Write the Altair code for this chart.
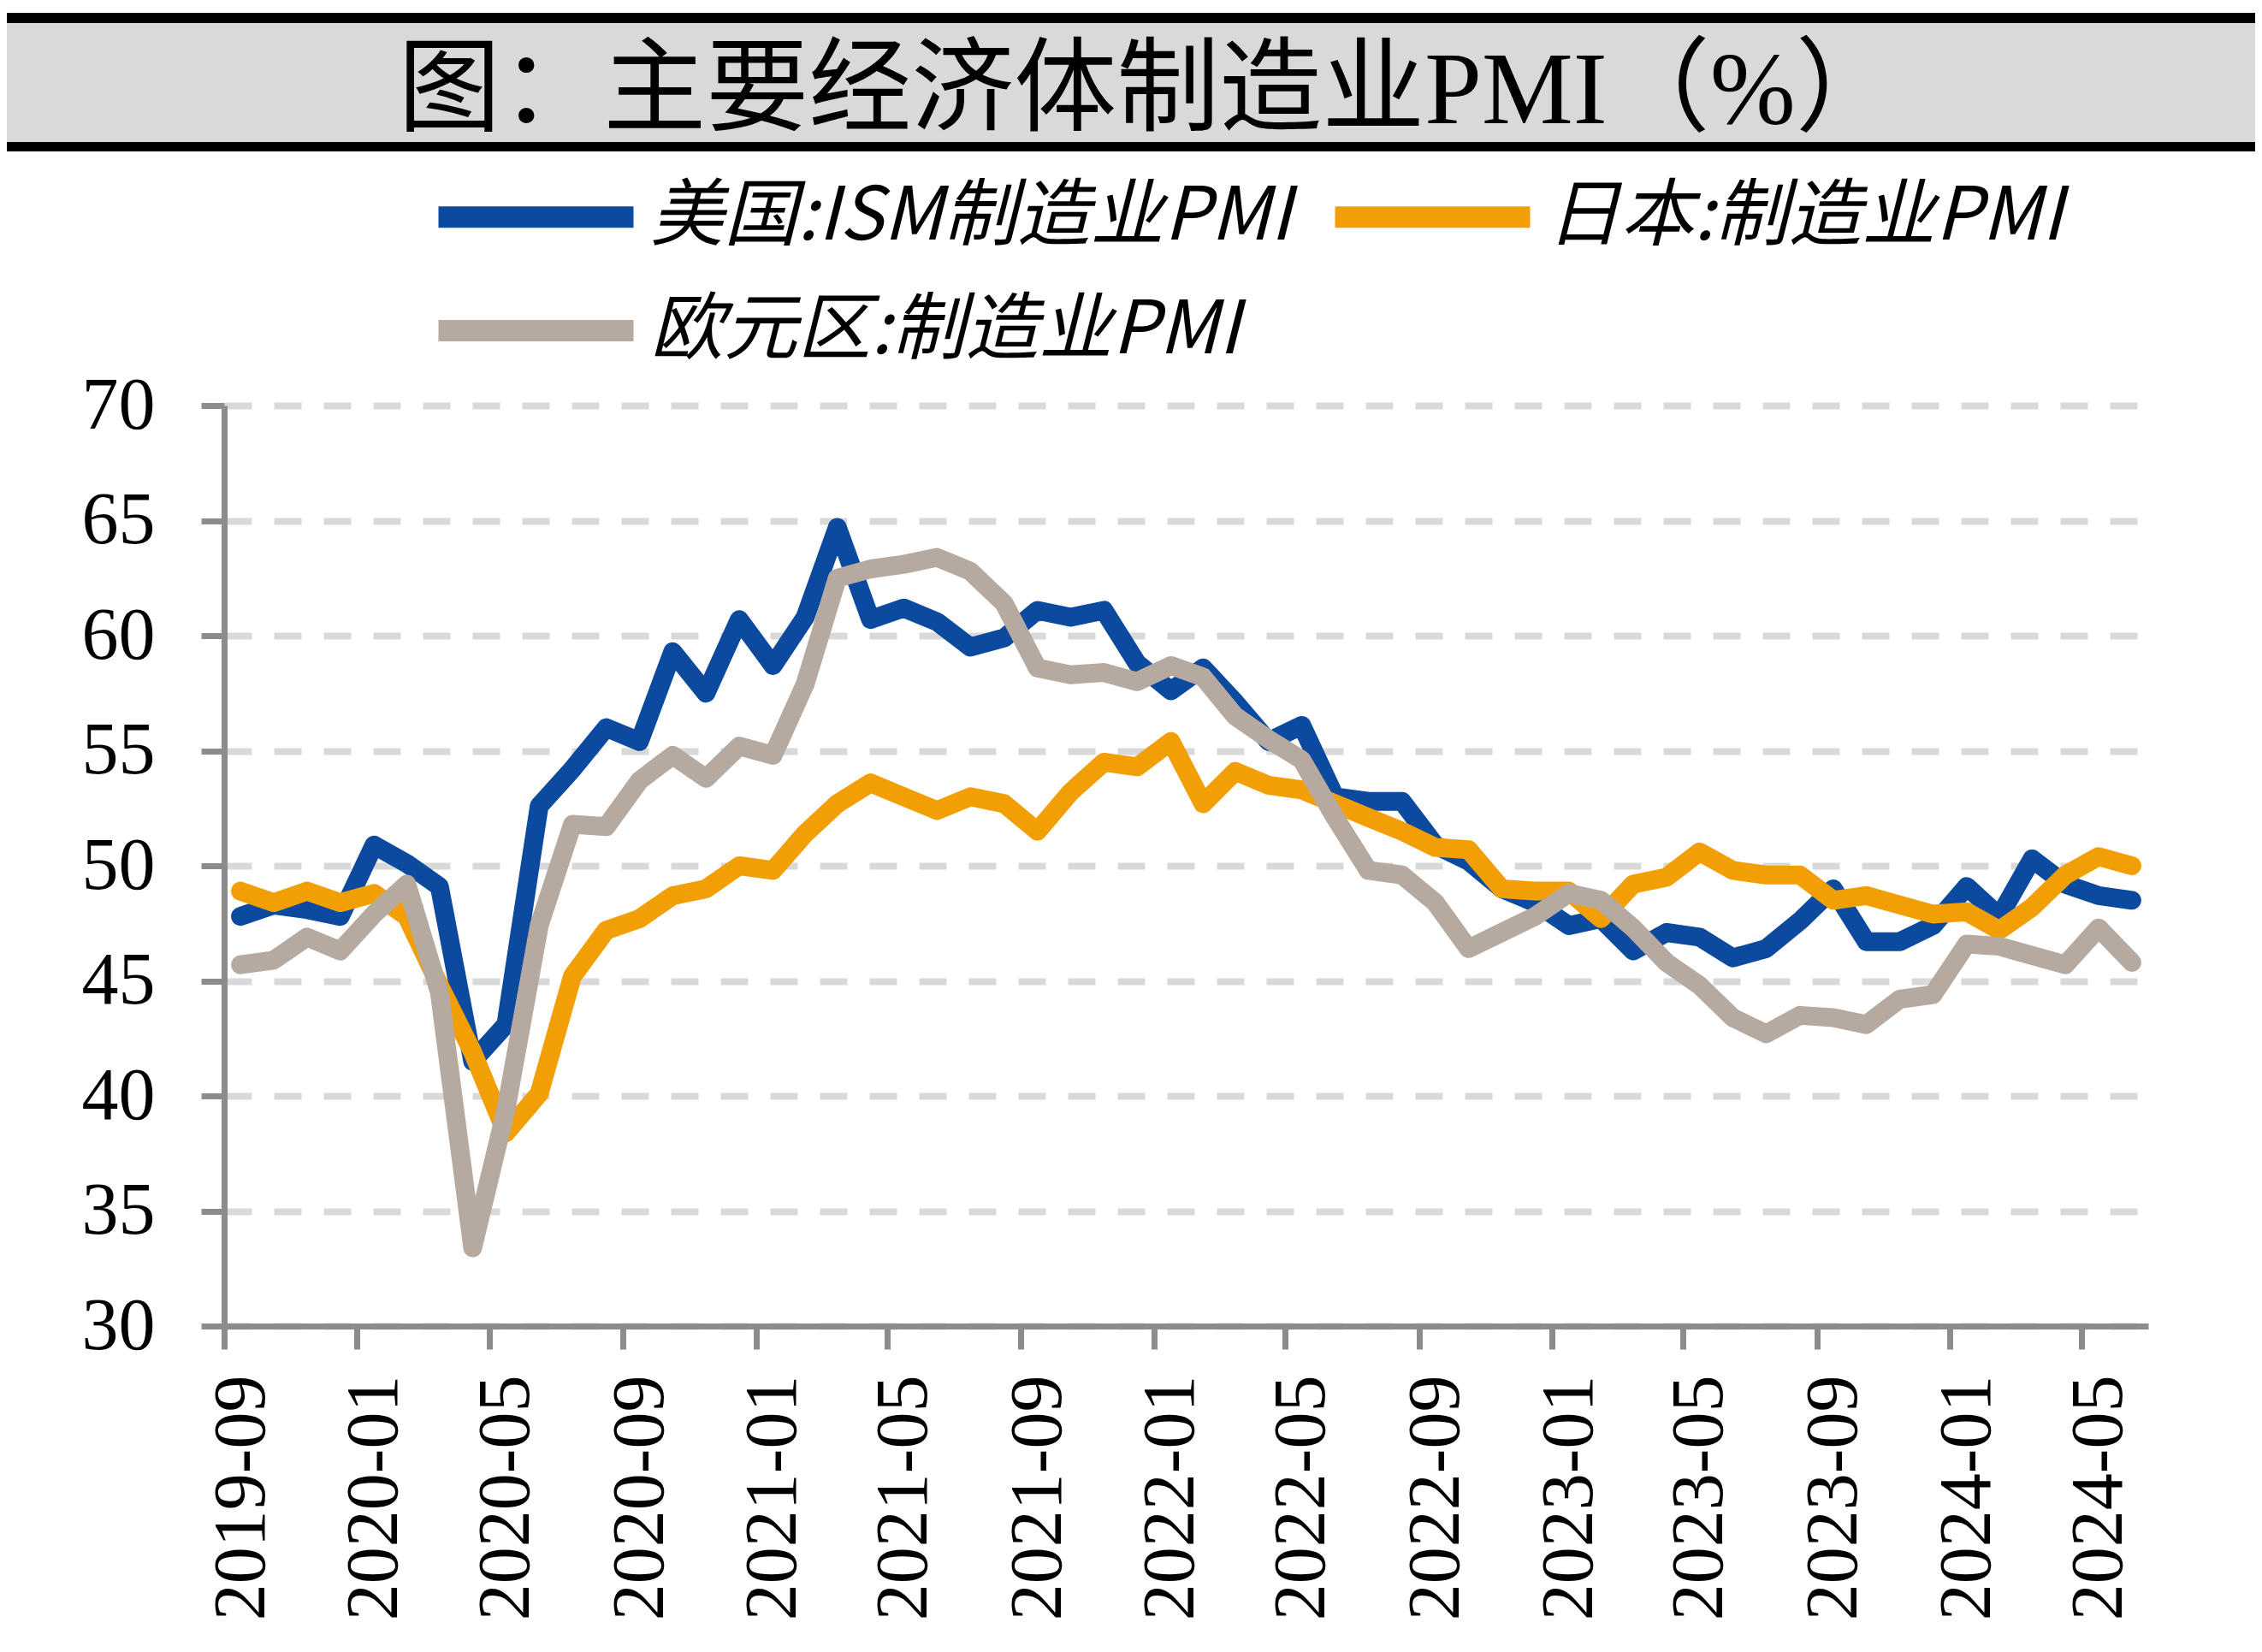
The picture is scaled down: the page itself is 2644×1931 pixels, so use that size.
import altair as alt
import pandas as pd

# ---------------- data ----------------
months = [
    "2019-09", "2019-10", "2019-11", "2019-12",
    "2020-01", "2020-02", "2020-03", "2020-04", "2020-05", "2020-06",
    "2020-07", "2020-08", "2020-09", "2020-10", "2020-11", "2020-12",
    "2021-01", "2021-02", "2021-03", "2021-04", "2021-05", "2021-06",
    "2021-07", "2021-08", "2021-09", "2021-10", "2021-11", "2021-12",
    "2022-01", "2022-02", "2022-03", "2022-04", "2022-05", "2022-06",
    "2022-07", "2022-08", "2022-09", "2022-10", "2022-11", "2022-12",
    "2023-01", "2023-02", "2023-03", "2023-04", "2023-05", "2023-06",
    "2023-07", "2023-08", "2023-09", "2023-10", "2023-11", "2023-12",
    "2024-01", "2024-02", "2024-03", "2024-04", "2024-05", "2024-06",
]

us_ism = [
    47.8, 48.3, 48.1, 47.8,
    50.9, 50.1, 49.1, 41.5, 43.1, 52.6, 54.2, 56.0, 55.4, 59.3, 57.5, 60.7,
    58.7, 60.8, 64.7, 60.7, 61.2, 60.6, 59.5, 59.9, 61.1, 60.8, 61.1, 58.8,
    57.6, 58.6, 57.1, 55.4, 56.1, 53.0, 52.8, 52.8, 50.9, 50.2, 49.0, 48.4,
    47.4, 47.7, 46.3, 47.1, 46.9, 46.0, 46.4, 47.6, 49.0, 46.7, 46.7, 47.4,
    49.1, 47.8, 50.3, 49.2, 48.7, 48.5,
]

japan = [
    48.9, 48.4, 48.9, 48.4,
    48.8, 47.8, 44.8, 41.9, 38.4, 40.1, 45.2, 47.2, 47.7, 48.7, 49.0, 50.0,
    49.8, 51.4, 52.7, 53.6, 53.0, 52.4, 53.0, 52.7, 51.5, 53.2, 54.5, 54.3,
    55.4, 52.7, 54.1, 53.5, 53.3, 52.7, 52.1, 51.5, 50.8, 50.7, 49.0, 48.9,
    48.9, 47.7, 49.2, 49.5, 50.6, 49.8, 49.6, 49.6, 48.5, 48.7, 48.3, 47.9,
    48.0, 47.2, 48.2, 49.6, 50.4, 50.0,
]

eurozone = [
    45.7, 45.9, 46.9, 46.3,
    47.9, 49.2, 44.5, 33.4, 39.4, 47.4, 51.8, 51.7, 53.7, 54.8, 53.8, 55.2,
    54.8, 57.9, 62.5, 62.9, 63.1, 63.4, 62.8, 61.4, 58.6, 58.3, 58.4, 58.0,
    58.7, 58.2, 56.5, 55.5, 54.6, 52.1, 49.8, 49.6, 48.4, 46.4, 47.1, 47.8,
    48.8, 48.5, 47.3, 45.8, 44.8, 43.4, 42.7, 43.5, 43.4, 43.1, 44.2, 44.4,
    46.6, 46.5, 46.1, 45.7, 47.3, 45.8,
]

series_names = ["美国:ISM制造业PMI", "日本:制造业PMI", "欧元区:制造业PMI"]
series_colors = ["#0B4A9F", "#F29F05", "#B6AAA0"]

x_tick_labels = [
    "2019-09", "2020-01", "2020-05", "2020-09", "2021-01", "2021-05",
    "2021-09", "2022-01", "2022-05", "2022-09", "2023-01", "2023-05",
    "2023-09", "2024-01", "2024-05",
]
y_ticks = [30, 35, 40, 45, 50, 55, 60, 65, 70]
title_text = "图：主要经济体制造业PMI（%）"

# ---------------- table ----------------
rows = []
for name, vals in zip(series_names, [us_ism, japan, eurozone]):
    for order, (m, v) in enumerate(zip(months, vals)):
        rows.append({"date": m.replace("-", "/") + "/01", "value": v,
                     "series": name, "k": order})
df = pd.DataFrame(rows)


def dt(label):
    y, m = label.split("-")
    return alt.DateTime(year=int(y), month=int(m), date=1)


x_domain = [dt("2019-09"), dt("2024-07")]
x_values = [dt(s) for s in x_tick_labels]

SERIF = "Liberation Serif, Noto Sans CJK SC"
CJK = "Noto Sans CJK SC"
AXIS_GRAY = "#8C8C8C"

W, H = 2249, 1076

x_enc = alt.X(
    "date:T", timeUnit="yearmonth", bandPosition=0.5,
    scale=alt.Scale(domain=x_domain),
    axis=alt.Axis(
        values=x_values, format="%Y-%m", title=None, grid=False,
        domainColor=AXIS_GRAY, domainWidth=7,
        tickColor=AXIS_GRAY, tickWidth=7, tickSize=27,
        labelAngle=270, labelAlign="right", labelBaseline="middle",
        labelPadding=30, labelOffset=20, labelLimit=2000,
        labelFont=SERIF, labelFontSize=86, labelColor="#000000",
        labelOverlap=False, labelFlush=False,
    ),
)
y_enc = alt.Y(
    "value:Q",
    scale=alt.Scale(domain=[30, 70], nice=False, zero=False),
    axis=alt.Axis(
        values=y_ticks, title=None, grid=True,
        gridColor="#D9D9D9", gridWidth=8, gridDash=[32, 26],
        domainColor=AXIS_GRAY, domainWidth=7,
        tickColor=AXIS_GRAY, tickWidth=7, tickSize=27,
        labelPadding=54, labelFont=SERIF, labelFontSize=86,
        labelColor="#000000",
    ),
)


def legend_at(y):
    return alt.Legend(
        orient="none", legendX=238, legendY=y, direction="horizontal",
        title=None, padding=0,
        symbolType="stroke", symbolSize=228 * 228, symbolStrokeWidth=25,
        symbolOpacity=1,
        labelFont=CJK, labelFontSize=86, labelFontStyle="italic",
        labelColor="#000000", labelOffset=7, labelLimit=2000,
        columnPadding=0,
    )


line_style = dict(strokeWidth=22, strokeCap="round", strokeJoin="round")

lines_a = alt.Chart(df).transform_filter(
    alt.FieldOneOfPredicate(field="series", oneOf=series_names[:2])
).mark_line(**line_style).encode(
    x=x_enc, y=y_enc,
    color=alt.Color(
        "series:N",
        scale=alt.Scale(domain=series_names[:2], range=series_colors[:2]),
        legend=legend_at(-347),
    ),
    order=alt.Order("k:Q"),
)

lines_b = alt.Chart(df).transform_filter(
    alt.FieldOneOfPredicate(field="series", oneOf=series_names[2:])
).mark_line(**line_style).encode(
    x=x_enc, y=y_enc,
    color=alt.Color(
        "series:N",
        scale=alt.Scale(domain=series_names[2:], range=series_colors[2:]),
        legend=legend_at(-214),
    ),
    order=alt.Order("k:Q"),
)

one = pd.DataFrame({"a": [0]})

band_black = alt.Chart(one).mark_rect(color="#000000").encode(
    x=alt.value(-262), x2=alt.value(2382),
    y=alt.value(-459), y2=alt.value(-297),
)
band_gray = alt.Chart(one).mark_rect(color="#D9D9D9").encode(
    x=alt.value(-262), x2=alt.value(2382),
    y=alt.value(-447), y2=alt.value(-308),
)
title = alt.Chart(one).mark_text(
    text=title_text, font=SERIF, fontSize=120, color="#000000",
    align="center", baseline="middle",
).encode(x=alt.value(1080), y=alt.value(-366))

chart = alt.layer(band_black, band_gray, title, lines_a, lines_b).resolve_scale(
    color="independent"
).properties(
    width=W, height=H,
    autosize=alt.AutoSizeParams(type="none"),
    padding={"left": 254, "top": 466, "right": 125, "bottom": 373},
    background="#FFFFFF",
).configure_view(stroke=None)

chart.save("out.html", embed_options={"renderer": "svg", "actions": False})
